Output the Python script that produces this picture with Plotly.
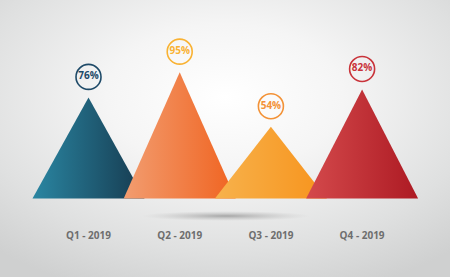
import base64
import plotly.graph_objects as go

# ---- data ----
categories = ["Q1 - 2019", "Q2 - 2019", "Q3 - 2019", "Q4 - 2019"]
values = [76, 95, 54, 82]
labels = ["76%", "95%", "54%", "82%"]
grad_left = ["#2a86a2", "#f29d70", "#f7b24c", "#d44a4c"]
grad_right = ["#163a4f", "#f06320", "#f7931c", "#ad1a23"]
badge_colors = ["#1e4a68", "#f9b233", "#f39237", "#c9333a"]

# ---- geometry (pixel scale helpers) ----
W, H = 450, 277
k = 1.33            # pixels per value unit on y
base_px = 198.5     # baseline pixel from top
x0_px, dx_px = 88.5, 91.2
half_w = 56 / dx_px

yr = [-(H - base_px) / k, base_px / k]
xr = [-x0_px / dx_px, (W - x0_px) / dx_px]

# ---- background (radial gradient + soft shadow) ----
svg = f"""<svg xmlns='http://www.w3.org/2000/svg' width='{W}' height='{H}' viewBox='0 0 {W} {H}'>
<defs>
<radialGradient id='bg' cx='0.5' cy='0.35' r='0.75'>
<stop offset='0' stop-color='#ffffff'/>
<stop offset='0.35' stop-color='#f5f5f5'/>
<stop offset='0.75' stop-color='#dfe0e0'/>
<stop offset='1' stop-color='#cfd0d0'/>
</radialGradient>
<radialGradient id='sh' cx='0.5' cy='0.5' r='0.5'>
<stop offset='0' stop-color='#959595' stop-opacity='0.8'/>
<stop offset='0.6' stop-color='#b0b0b0' stop-opacity='0.35'/>
<stop offset='1' stop-color='#c0c0c0' stop-opacity='0'/>
</radialGradient>
</defs>
<rect x='0' y='0' width='{W}' height='{H}' fill='url(#bg)'/>
<ellipse cx='226' cy='216' rx='84' ry='5' fill='url(#sh)'/>
</svg>"""
src = "data:image/svg+xml;base64," + base64.b64encode(svg.encode()).decode()

fig = go.Figure()

for i, (v, cl, cr) in enumerate(zip(values, grad_left, grad_right)):
    fig.add_trace(go.Scatter(
        x=[i - half_w, i, i + half_w, i - half_w],
        y=[0, v, 0, 0],
        mode="lines",
        fill="toself",
        line=dict(width=0, color=cr),
        fillgradient=dict(type="horizontal", colorscale=[[0, cl], [1, cr]]),
        hoverinfo="skip",
        showlegend=False,
    ))

# percentage badges
offset = 20.5 / k
for i, (v, lab, c) in enumerate(zip(values, labels, badge_colors)):
    fig.add_trace(go.Scatter(
        x=[i], y=[v + offset],
        mode="markers+text",
        marker=dict(size=25, color="rgba(255,255,255,0)", line=dict(width=1.6, color=c)),
        text=[f"<b>{lab}</b>"],
        textposition="middle center",
        textfont=dict(family="Open Sans", size=10, color=c),
        hoverinfo="skip",
        showlegend=False,
    ))

# category labels
fig.add_trace(go.Scatter(
    x=list(range(len(categories))),
    y=[-(236 - base_px) / k] * len(categories),
    mode="text",
    text=[f"<b>{c}</b>" for c in categories],
    textfont=dict(family="Open Sans", size=10, color="#6e6e6e"),
    hoverinfo="skip",
    showlegend=False,
))

fig.update_layout(
    width=W, height=H,
    margin=dict(l=0, r=0, t=0, b=0),
    paper_bgcolor="#e8e8e8",
    plot_bgcolor="rgba(0,0,0,0)",
    xaxis=dict(range=xr, visible=False, fixedrange=True),
    yaxis=dict(range=yr, visible=False, fixedrange=True),
    images=[dict(source=src, xref="paper", yref="paper", x=0, y=1,
                 sizex=1, sizey=1, sizing="stretch", layer="below",
                 xanchor="left", yanchor="top")],
)

fig.write_html("out.html")
